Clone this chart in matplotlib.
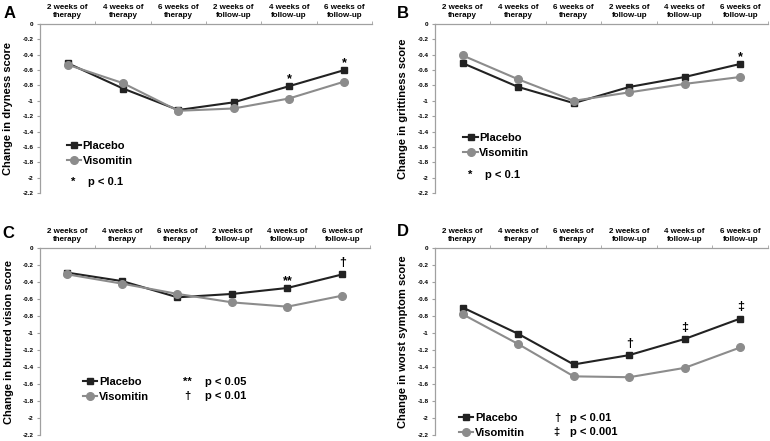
import matplotlib
matplotlib.use("Agg")
import matplotlib.pyplot as plt

plt.rcParams["font.family"] = ["Liberation Sans", "DejaVu Sans"]
plt.rcParams["font.weight"] = "bold"

# time points (top axis)
categories = ["2 weeks of\ntherapy", "4 weeks of\ntherapy", "6 weeks of\ntherapy",
              "2 weeks of\nfollow-up", "4 weeks of\nfollow-up", "6 weeks of\nfollow-up"]
yticks = [0, -0.2, -0.4, -0.6, -0.8, -1, -1.2, -1.4, -1.6, -1.8, -2, -2.2]
ytick_labels = ["0", "-0.2", "-0.4", "-0.6", "-0.8", "-1", "-1.2", "-1.4",
                "-1.6", "-1.8", "-2", "-2.2"]

# A: dryness
dryness_placebo = [-0.51, -0.84, -1.12, -1.02, -0.81, -0.60]
dryness_visomitin = [-0.53, -0.77, -1.13, -1.10, -0.97, -0.75]
dryness_sig = {4: "*", 5: "*"}
dryness_key = [("*", "p < 0.1")]

# B: grittiness
grittiness_placebo = [-0.51, -0.82, -1.03, -0.82, -0.69, -0.52]
grittiness_visomitin = [-0.41, -0.72, -1.00, -0.89, -0.78, -0.69]
grittiness_sig = {5: "*"}
grittiness_key = [("*", "p < 0.1")]

# C: blurred vision
blurred_placebo = [-0.29, -0.39, -0.58, -0.54, -0.47, -0.31]
blurred_visomitin = [-0.31, -0.42, -0.54, -0.64, -0.69, -0.56]
blurred_sig = {4: "**", 5: "\u2020"}
blurred_key = [("**", "p < 0.05"), ("\u2020", "p < 0.01")]

# D: worst symptom
worst_placebo = [-0.70, -1.01, -1.37, -1.26, -1.07, -0.83]
worst_visomitin = [-0.78, -1.13, -1.51, -1.52, -1.41, -1.17]
worst_sig = {3: "\u2020", 4: "\u2021", 5: "\u2021"}
worst_key = [("\u2020", "p < 0.01"), ("\u2021", "p < 0.001")]

DARK = "#222222"
LIGHT = "#8c8c8c"
SPINE = "#a0a0a0"


def draw_panel(rect, letter, letter_xy, ylabel, placebo, visomitin, sig, key,
               leg_xy, key_xy):
    ax = fig.add_axes(rect)
    x = list(range(len(categories)))
    ax.plot(x, placebo, color=DARK, lw=1.5, marker="s", ms=5, label="Placebo")
    ax.plot(x, visomitin, color=LIGHT, lw=1.5, marker="o", ms=5.5, label="Visomitin")

    ax.set_xlim(-0.5, 5.5)
    ax.set_ylim(-2.2, 0)
    ax.xaxis.set_ticks_position("top")
    ax.set_xticks(x)
    ax.set_xticklabels(categories, fontsize=5.8, fontweight="bold")
    ax.set_xticks([i + 0.5 for i in x], minor=True)
    ax.tick_params(axis="x", which="major", length=0, pad=3.5)
    ax.tick_params(axis="x", which="minor", length=2.5, color=SPINE)
    ax.set_yticks(yticks)
    ax.set_yticklabels(ytick_labels, fontsize=4.6, fontweight="bold")
    ax.tick_params(axis="y", length=2.5, color=SPINE, pad=2)

    for s in ["right", "bottom"]:
        ax.spines[s].set_visible(False)
    for s in ["left", "top"]:
        ax.spines[s].set_color(SPINE)
        ax.spines[s].set_linewidth(0.9)

    ax.set_ylabel(ylabel, fontsize=8, fontweight="bold")
    ax.yaxis.set_label_coords(-0.08, 0.5)

    # significance marks above placebo points
    for i, sym in sig.items():
        off = 5 if "*" in sym else 8
        ax.annotate(sym, (i, placebo[i]), xytext=(0, off), textcoords="offset points",
                    ha="center", va="center", fontsize=9, fontweight="bold")

    ax.legend(loc="upper left", bbox_to_anchor=leg_xy, frameon=False,
              handlelength=1.3, handletextpad=0.15, labelspacing=0.45,
              borderpad=0, borderaxespad=0, prop=dict(weight="bold", size=8))

    kx, px, ky = key_xy
    for j, (sym, txt) in enumerate(key):
        yy = ky - j * 0.075
        ax.text(kx, yy, sym, transform=ax.transAxes, ha="center", va="center",
                fontsize=8, fontweight="bold")
        ax.text(px, yy, txt, transform=ax.transAxes, ha="left", va="center",
                fontsize=8, fontweight="bold")

    fig.text(letter_xy[0], letter_xy[1], letter, ha="left", va="center",
             fontsize=12, fontweight="bold")
    return ax


fig = plt.figure(figsize=(7.7, 4.41), dpi=100)

draw_panel([0.0519, 0.5624, 0.4312, 0.3832], "A", (0.004, 0.97),
           "Change in dryness score", dryness_placebo, dryness_visomitin,
           dryness_sig, dryness_key, (0.08, 0.31), (0.099, 0.145, 0.065))
draw_panel([0.5649, 0.5624, 0.4325, 0.3832], "B", (0.516, 0.97),
           "Change in grittiness score", grittiness_placebo, grittiness_visomitin,
           grittiness_sig, grittiness_key, (0.085, 0.355), (0.105, 0.15, 0.107))
draw_panel([0.0519, 0.0136, 0.4286, 0.4240], "C", (0.003, 0.47),
           "Change in blurred vision score", blurred_placebo, blurred_visomitin,
           blurred_sig, blurred_key, (0.13, 0.31), (0.448, 0.5, 0.283))
draw_panel([0.5649, 0.0136, 0.4325, 0.4240], "D", (0.516, 0.474),
           "Change in worst symptom score", worst_placebo, worst_visomitin,
           worst_sig, worst_key, (0.072, 0.12), (0.366, 0.405, 0.091))

fig.savefig("out.png", dpi=100, facecolor="white")
